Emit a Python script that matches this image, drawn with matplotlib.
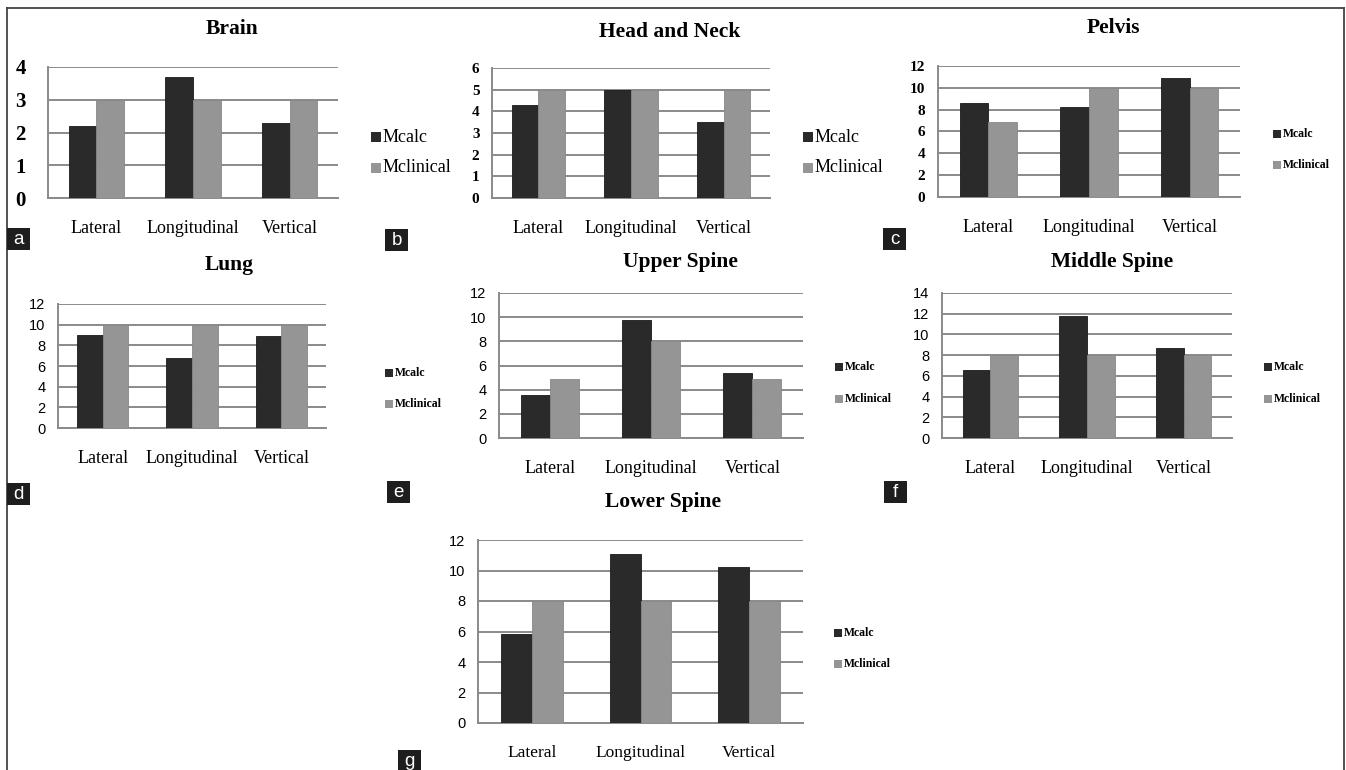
import matplotlib
matplotlib.use('Agg')
import matplotlib.pyplot as plt
from matplotlib.patches import Rectangle
from matplotlib.lines import Line2D
import numpy as np

W, H = 1346, 770

categories = ['Lateral', 'Longitudinal', 'Vertical']
series_names = ['Mcalc', 'Mclinical']

brain_calc = [2.2, 3.7, 2.3]
brain_clin = [3, 3, 3]
headneck_calc = [4.3, 5.0, 3.5]
headneck_clin = [5, 5, 5]
pelvis_calc = [8.65, 8.25, 10.9]
pelvis_clin = [6.9, 10, 10]
lung_calc = [9.0, 6.8, 8.9]
lung_clin = [10, 10, 10]
upper_calc = [3.6, 9.8, 5.4]
upper_clin = [4.9, 8, 4.9]
middle_calc = [6.6, 11.8, 8.7]
middle_clin = [8, 8, 8]
lower_calc = [5.85, 11.1, 10.25]
lower_clin = [8, 8, 8]

DARK = '#2a2a2a'
LIGHT = '#959595'
GRID = '#8a8a8a'
SERIF = 'Liberation Serif'
SANS = 'Liberation Sans'

fig = plt.figure(figsize=(W / 100, H / 100), dpi=100)


def px_axes(x0, y0, x1, y1):
    return fig.add_axes([x0 / W, 1 - y1 / H, (x1 - x0) / W, (y1 - y0) / H])


def panel(box, calc, clin, ymax, step, title, title_xy, tick_style, legend_xy, legend_gap, legend_big,
          cat_size=13, title_size=15.5):
    ax = px_axes(*box)
    x = np.arange(len(categories))
    w = 0.286
    ax.bar(x - w / 2, calc, w, color=DARK, edgecolor='#1a1a1a', linewidth=0.6, zorder=3)
    ax.bar(x + w / 2, clin, w, color=LIGHT, edgecolor='#888888', linewidth=0.6, zorder=3)
    ax.set_xlim(-0.5, 2.5)
    ax.set_ylim(0, ymax)
    ax.set_yticks(np.arange(0, ymax + 0.01, step))
    ax.yaxis.grid(True, color=GRID, linewidth=1.4, zorder=1)
    ax.set_axisbelow(True)
    for s in ['top', 'right']:
        ax.spines[s].set_visible(False)
    for s in ['left', 'bottom']:
        ax.spines[s].set_color(GRID)
        ax.spines[s].set_linewidth(1.4)
    ax.tick_params(length=0)
    ax.set_xticks(x)
    ax.set_xticklabels(categories, fontfamily=SERIF, fontsize=cat_size)
    ax.tick_params(axis='x', pad=16)
    fam, size, weight, pad = tick_style
    for lab in ax.get_yticklabels():
        lab.set_fontfamily(fam)
        lab.set_fontsize(size)
        lab.set_fontweight(weight)
    ax.tick_params(axis='y', pad=pad)
    fig.text(title_xy[0] / W, 1 - title_xy[1] / H, title, ha='center', va='center',
             fontfamily=SERIF, fontweight='bold', fontsize=title_size)
    # legend
    lx, ly = legend_xy
    if legend_big:
        sq, fs, fw = 10, 13, 'normal'
    else:
        sq, fs, fw = 8, 8.5, 'bold'
    for i, (name, col) in enumerate(zip(series_names, [DARK, LIGHT])):
        cy = ly + i * legend_gap
        fig.add_artist(Rectangle((lx / W, 1 - (cy + sq / 2) / H), sq / W, sq / H,
                                 transform=fig.transFigure, facecolor=col, edgecolor='none'))
        fig.text((lx + sq + 2) / W, 1 - cy / H, name, ha='left', va='center',
                 fontfamily=SERIF, fontsize=fs, fontweight=fw)
    return ax


serif_big = (SERIF, 15, 'bold', 16)
serif_mid = (SERIF, 11, 'bold', 9)
sans = (SANS, 10.5, 'normal', 9)

panel((48, 67, 338, 198), brain_calc, brain_clin, 4, 1, 'Brain', (232, 29), serif_big, (371, 137), 31, True)
panel((492, 68, 770, 198), headneck_calc, headneck_clin, 6, 1, 'Head and Neck', (670, 32), serif_mid, (803, 137), 31, True)
panel((938, 66, 1240, 197), pelvis_calc, pelvis_clin, 12, 2, 'Pelvis', (1113, 28), serif_mid, (1273, 134), 31, False)
panel((58, 304, 326, 428), lung_calc, lung_clin, 12, 2, 'Lung', (229, 265), sans, (385, 373), 31, False)
panel((499, 293, 803, 438), upper_calc, upper_clin, 12, 2, 'Upper Spine', (680, 262), sans, (835, 367), 32, False)
panel((942, 293, 1232, 438), middle_calc, middle_clin, 14, 2, 'Middle Spine', (1112, 262), sans, (1264, 367), 32, False)
panel((478, 540, 803, 723), lower_calc, lower_clin, 12, 2, 'Lower Spine', (663, 502), sans, (834, 633), 31, False,
      cat_size=12.5)

# outer frame
for xs, ys in [((7, 7), (8, H)), ((7, 1344), (8, 8)), ((1344, 1344), (8, H))]:
    fig.add_artist(Line2D([xs[0] / W, xs[1] / W], [1 - ys[0] / H, 1 - ys[1] / H],
                          transform=fig.transFigure, color='#444444', linewidth=1.3))

# panel letters
letters = [('a', 7, 228), ('b', 385, 229), ('c', 883, 228), ('d', 7, 483),
           ('e', 387, 481), ('f', 884, 481), ('g', 398, 750)]
for ch, x0, y0 in letters:
    fig.add_artist(Rectangle((x0 / W, 1 - (y0 + 22) / H), 23 / W, 22 / H,
                             transform=fig.transFigure, facecolor='#1e1e1e', edgecolor='none', zorder=5))
    fig.text((x0 + 11.5) / W, 1 - (y0 + 11.5) / H, ch, ha='center', va='center', color='white',
             fontfamily=SANS, fontsize=13.5, zorder=6)

fig.savefig('out.png', dpi=100)
